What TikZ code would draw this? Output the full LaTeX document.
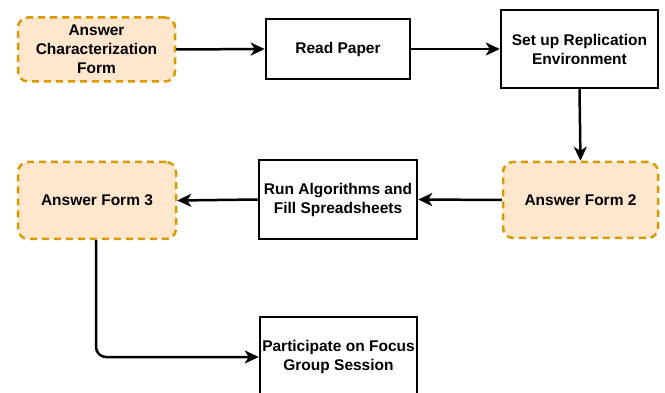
\documentclass[tikz,border=0pt]{standalone}
\usepackage{fontspec}
\setmainfont{Liberation Sans}
\usetikzlibrary{arrows.meta}
\definecolor{formfill}{HTML}{FFE6CC}
\definecolor{formline}{HTML}{D79B00}
\tikzset{
  box/.style={draw=black, line width=2.5pt, fill=white, inner sep=0pt, align=center,
    font=\fontsize{15.5}{19}\selectfont\bfseries},
  formbox/.style={box, draw=formline, fill=formfill, rounded corners=10pt,
    dash pattern=on 7pt off 5pt},
  flow/.style={line width=2.5pt, draw=black,
    -{Stealth[length=14pt,width=13pt,inset=4pt]}}
}
\begin{document}
\begin{tikzpicture}[x=1pt,y=-1pt]
  \useasboundingbox (0,0) rectangle (665,393);
  \clip (0,0) rectangle (665,393);

  % first row
  \node[formbox, minimum width=157pt, minimum height=64pt] (acf) at (96.5,49.5)
    {Answer\\Characterization\\Form};
  \node[box, minimum width=144pt, minimum height=60pt] (rp) at (338,49) {Read Paper};
  \node[box, minimum width=157pt, minimum height=78pt] (sre) at (579.5,49)
    {Set up Replication\\Environment};

  % second row
  \node[formbox, minimum width=155pt, minimum height=76pt] (af2) at (580.5,200) {Answer Form 2};
  \node[box, minimum width=158pt, minimum height=79pt] (ra) at (338,199.5)
    {Run Algorithms and\\Fill Spreadsheets};
  \node[formbox, minimum width=158pt, minimum height=77pt] (af3) at (97,200.5) {Answer Form 3};

  % third row
  \node[box, minimum width=157pt, minimum height=80pt] (pg) at (338.5,357)
    {Participate on Focus\\Group Session};

  % connectors
  \draw[flow] (acf.east) -- (rp.west);
  \draw[flow] (rp.east) -- (sre.west);
  \draw[flow] (sre.south) -- (af2.north);
  \draw[flow] (af2.west) -- (ra.east);
  \draw[flow] (ra.west) -- (af3.east);
  \draw[flow, rounded corners=10pt] (af3.south -| 96,0) |- (pg.west);
\end{tikzpicture}
\end{document}
